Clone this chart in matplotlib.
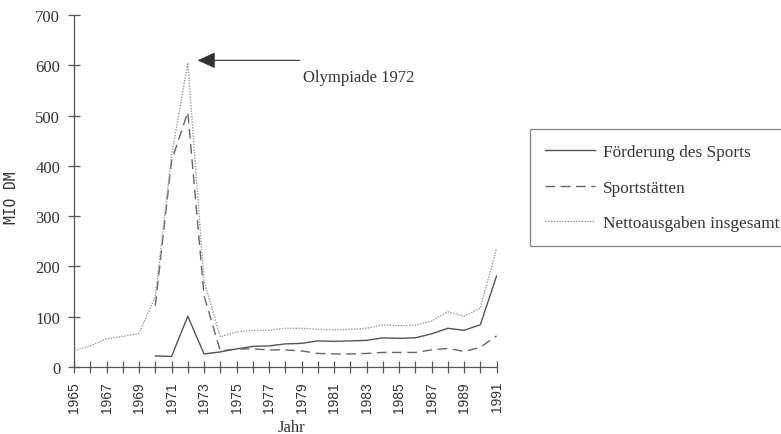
import matplotlib.pyplot as plt

jahre = list(range(1965, 1992))

# Nettoausgaben insgesamt, 1965-1991
netto = [32, 42, 56, 61, 67, 140, 420, 605, 170, 60, 70, 73, 73, 77, 77, 75,
         74, 75, 77, 84, 82, 83, 91, 110, 101, 117, 236]

# Foerderung des Sports und Sportstaetten erst ab 1970
jahre_ab70 = list(range(1970, 1992))
foerderung = [22, 21, 101, 26, 30, 36, 41, 42, 46, 47, 52, 51, 52, 53, 58, 57,
              58, 66, 77, 73, 84, 181]
sportstaetten = [122, 410, 507, 142, 32, 36, 36, 34, 34, 32, 27, 26, 26, 27,
                 29, 29, 29, 34, 37, 31, 39, 62]

x_labels = [str(j) for j in range(1965, 1992, 2)]

serif = ['Liberation Serif', 'DejaVu Serif']
sans = ['Liberation Sans', 'DejaVu Sans']

fig = plt.figure(figsize=(7.81, 4.35), dpi=100)
ax = fig.add_axes([0.0948, 0.154, 0.541, 0.809])

ax.plot(jahre_ab70, foerderung, color='#555555', lw=1.0, ls='-',
        label='Förderung des Sports')
ax.plot(jahre_ab70, sportstaetten, color='#666666', lw=1.0, ls=(0, (7, 4)),
        label='Sportstätten')
ax.plot(jahre, netto, color='#9a9a9a', lw=1.0, ls=(0, (1, 1)),
        label='Nettoausgaben insgesamt')

ax.set_xlim(1965, 1991)
ax.set_ylim(0, 700)
ax.set_xticks(jahre, minor=True)
ax.set_xticks(range(1965, 1992, 2))
ax.set_xticklabels(x_labels, rotation=90, family=sans, fontsize=10,
                   color='#333333')
ax.set_yticks(range(0, 701, 100))
ax.set_yticklabels([str(v) for v in range(0, 701, 100)], family=serif,
                   fontsize=12, color='#333333')
ax.tick_params(axis='both', which='both', direction='inout', length=8,
               width=0.9, color='#555555')
ax.tick_params(axis='y', pad=6)
ax.tick_params(axis='x', pad=6)

for side in ['top', 'right']:
    ax.spines[side].set_visible(False)
for side in ['left', 'bottom']:
    ax.spines[side].set_color('#555555')
    ax.spines[side].set_linewidth(0.9)

fig.text(291 / 781, 1 - 428 / 435, 'Jahr', family=serif, fontsize=12,
         color='#333333', ha='center', va='center')
fig.text(12 / 781, 1 - 198 / 435, 'MIO DM', family=['DejaVu Sans Mono'],
         fontsize=10.5, color='#333333', ha='center', va='center',
         rotation=90)

ax.annotate('', xy=(1972.6, 610), xytext=(1978.9, 610),
            arrowprops=dict(arrowstyle='-|>,head_length=1.1,head_width=0.5',
                            mutation_scale=10, color='#333333', lw=0.8,
                            shrinkA=0, shrinkB=0))
ax.text(1979.1, 577, 'Olympiade 1972', family=serif, fontsize=12,
        color='#333333', ha='left', va='center')

leg = fig.legend(loc='upper left', bbox_to_anchor=(530 / 781, 1 - 130 / 435),
                 prop={'family': serif, 'size': 12.4}, frameon=True,
                 fancybox=False, edgecolor='#666666', handlelength=2.9,
                 handletextpad=0.47, labelspacing=1.15, borderpad=0.85,
                 borderaxespad=0)
leg.get_frame().set_linewidth(0.9)
for t in leg.get_texts():
    t.set_color('#333333')

fig.savefig('out.png', dpi=100)
